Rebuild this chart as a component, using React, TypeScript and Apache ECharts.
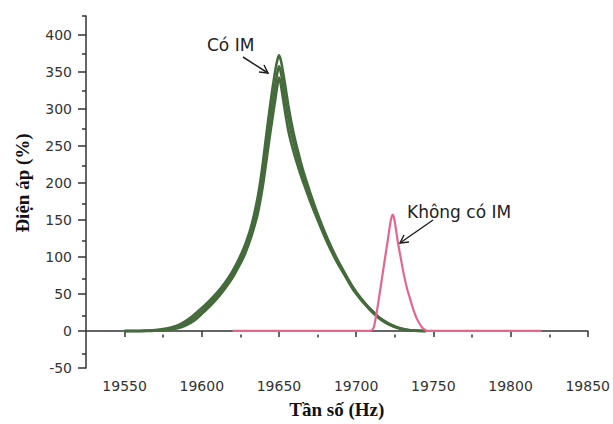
import React, { useEffect, useRef } from 'react';
import * as echarts from 'echarts';

// Axis ticks / labels
const xMajor = [19550, 19600, 19650, 19700, 19750, 19800, 19850];
const xMinor = [19575, 19625, 19675, 19725, 19775, 19825];
const yMajor = [-50, 0, 50, 100, 150, 200, 250, 300, 350, 400];
const yMinor = [-25, 25, 75, 125, 175, 225, 275, 325, 375, 425];

// "Có IM" – frequency grid shared by the three overlapping sweeps
const coImFreq = [
  19550, 19555, 19560, 19565, 19570, 19575, 19580, 19585, 19590, 19595, 19600, 19605,
  19610, 19615, 19620, 19624, 19628, 19632, 19636, 19638, 19640, 19642, 19644, 19646,
  19648, 19649, 19650,
  19651, 19652, 19654, 19656, 19658, 19660, 19662, 19664, 19666, 19670, 19674, 19678,
  19682, 19686, 19690, 19694, 19698, 19702, 19706, 19710, 19714, 19718, 19722, 19726,
  19730, 19735, 19740, 19745,
];
const coImOuter = [
  0, 0, 0, 0.5, 1.2, 2.5, 4.5, 8, 14, 22, 31, 41,
  52, 65, 81, 97, 116, 141, 178, 203, 234, 268, 300, 330,
  356, 366, 372,
  367, 357, 332, 305, 282, 262, 245, 229, 214, 188, 164, 142,
  122, 104, 88, 73, 59, 47, 37, 28, 20, 14, 9, 5.5,
  3, 1, 0.3, 0,
];
const coImMiddle = [
  0, 0, 0, 0.2, 0.7, 1.7, 3.2, 6, 11, 18, 27, 37,
  48, 61, 76.5, 92, 110, 134, 167, 190, 218, 250, 281, 310,
  337, 349, 357,
  351, 340, 313, 288, 267, 250, 234, 220, 206, 182, 160, 138,
  119, 101, 86, 71, 57, 46, 36, 27, 19, 13, 8.5, 5,
  2.6, 0.8, 0.2, 0,
];
const coImInner = [
  0, 0, 0, 0, 0.3, 1, 2, 4, 8, 14, 23, 33,
  44, 57, 72, 87, 104, 127, 156, 177, 202, 232, 262, 290,
  318, 332, 342,
  335, 322, 295, 271, 253, 238, 224, 211, 199, 176, 155, 135,
  116, 99, 84, 70, 56, 45, 35, 26, 18.5, 12.5, 8, 4.5,
  2.3, 0.7, 0.1, 0,
];

// "Không có IM"
const khongFreq = [
  19620, 19700, 19709, 19711, 19712, 19714, 19716, 19718, 19720, 19721, 19722, 19723,
  19723.7, 19724.5, 19725.5, 19727, 19729, 19731, 19733, 19735, 19737, 19739, 19741,
  19743, 19745, 19747, 19820,
];
const khongVals = [
  0, 0, 0, 3, 10, 34, 61, 89, 116, 130, 144, 154,
  157, 153, 141, 120, 97, 75, 57, 43, 29, 18, 10,
  4, 1, 0, 0,
];

const GREEN = '#456b3c';
const PINK = '#e3668f';
const AXIS = '#333333';
const SANS = '"DejaVu Sans", Arial, sans-serif';
const SERIF = '"Liberation Serif", "Times New Roman", serif';

const zip = (xs: number[], ys: number[]) => xs.map((x, i) => [x, ys[i]]);

export default function App() {
  const ref = useRef<HTMLDivElement>(null);
  useEffect(() => {
    const chart = echarts.init(ref.current!, null, { renderer: 'svg' });
    const gridRect = { left: 86, right: 25, top: 16, bottom: 52 };
    const labelStyle = { fontSize: 14, color: '#333', fontFamily: SANS };
    const greenLine = (name: string, vals: number[]) => ({
      name,
      type: 'line',
      data: zip(coImFreq, vals),
      showSymbol: false,
      smooth: 0.25,
      lineStyle: { color: GREEN, width: 2.6 },
      xAxisIndex: 0,
      yAxisIndex: 0,
    });
    chart.setOption({
      animation: false,
      backgroundColor: '#fff',
      grid: [{ ...gridRect }, { ...gridRect }],
      xAxis: [
        {
          type: 'value', gridIndex: 0, min: 19525, max: 19850, position: 'bottom',
          axisLine: { show: true, lineStyle: { color: AXIS, width: 1.5 } },
          axisTick: { show: true, customValues: xMajor, length: 6, lineStyle: { color: AXIS, width: 1.5 } },
          axisLabel: { customValues: xMajor, margin: 11, formatter: (v: number) => String(v), ...labelStyle },
          splitLine: { show: false },
          name: 'Tần số (Hz)', nameLocation: 'middle', nameGap: 32,
          nameTextStyle: { fontFamily: SERIF, fontWeight: 'bold', fontSize: 19, color: '#111' },
        },
        {
          type: 'value', gridIndex: 1, min: 19525, max: 19850, position: 'bottom',
          axisLine: { show: false },
          axisTick: { show: true, customValues: xMinor, length: 3, lineStyle: { color: AXIS, width: 1.5 } },
          axisLabel: { show: false },
          splitLine: { show: false },
        },
      ],
      yAxis: [
        {
          type: 'value', gridIndex: 0, min: -50, max: 425, position: 'left',
          axisLine: { show: true, lineStyle: { color: AXIS, width: 1.5 } },
          axisTick: { show: true, customValues: yMajor, length: 8, lineStyle: { color: AXIS, width: 1.5 } },
          axisLabel: { customValues: yMajor, margin: 14, formatter: (v: number) => String(v), ...labelStyle },
          splitLine: { show: false },
        },
        {
          type: 'value', gridIndex: 1, min: -50, max: 425, position: 'left',
          axisLine: { show: false },
          axisTick: { show: true, customValues: yMinor, length: 4, lineStyle: { color: AXIS, width: 1.5 } },
          axisLabel: { show: false },
          splitLine: { show: false },
        },
      ],
      series: [
        greenLine('Có IM (a)', coImOuter),
        greenLine('Có IM (b)', coImMiddle),
        greenLine('Có IM (c)', coImInner),
        {
          name: 'Không có IM',
          type: 'line',
          data: zip(khongFreq, khongVals),
          showSymbol: false,
          smooth: 0.3,
          lineStyle: { color: PINK, width: 2.2 },
          xAxisIndex: 0,
          yAxisIndex: 0,
        },
      ],
      graphic: [
        {
          type: 'text', x: 22, y: 183, rotation: Math.PI / 2,
          style: {
            text: 'Điện áp (%)', align: 'center', verticalAlign: 'middle',
            font: `bold 19px ${SERIF}`, fill: '#111',
          },
        },
        {
          type: 'text', x: 207, y: 45,
          style: { text: 'Có IM', align: 'left', verticalAlign: 'middle', font: `17px ${SANS}`, fill: '#222' },
        },
        { type: 'line', shape: { x1: 243, y1: 57, x2: 268, y2: 73 }, style: { stroke: '#222', lineWidth: 1.5 } },
        { type: 'polyline', shape: { points: [[259, 72], [268, 73], [264, 65]] }, style: { stroke: '#222', lineWidth: 1.5, fill: null } },
        {
          type: 'text', x: 407, y: 212,
          style: { text: 'Không có IM', align: 'left', verticalAlign: 'middle', font: `17px ${SANS}`, fill: '#222' },
        },
        { type: 'line', shape: { x1: 433, y1: 220, x2: 400, y2: 243 }, style: { stroke: '#222', lineWidth: 1.5 } },
        { type: 'polyline', shape: { points: [[409, 242], [400, 243], [404, 235]] }, style: { stroke: '#222', lineWidth: 1.5, fill: null } },
      ],
    });
    return () => chart.dispose();
  }, []);
  return <div ref={ref} style={{ position: 'fixed', left: 0, top: 0, width: 613, height: 424, background: '#fff' }} />;
}
